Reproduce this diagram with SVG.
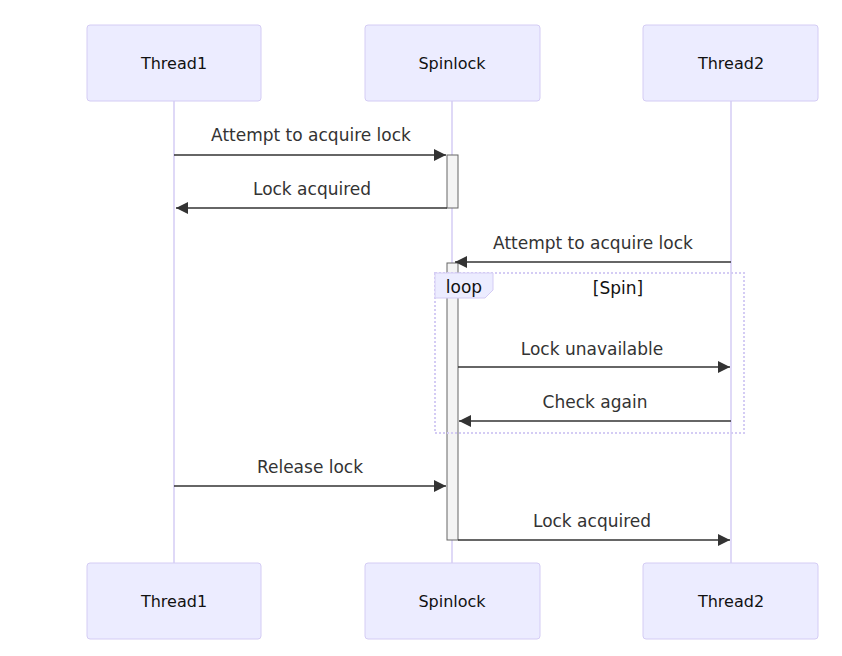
<svg xmlns="http://www.w3.org/2000/svg" width="842" height="656" viewBox="0 0 842 656">
<style>
.actor{fill:#ECECFF;stroke:#D4CCF4;stroke-width:1}
.atext{font-family:"DejaVu Sans","Liberation Sans",sans-serif;font-size:16px;fill:#111;text-anchor:middle;dominant-baseline:central}
.life{stroke:#D4CCF4;stroke-width:1.5}
.act{fill:#F4F4F4;stroke:#666;stroke-width:1}
.msg{stroke:#333;stroke-width:1.5;fill:none}
.mtext{font-family:"DejaVu Sans","Liberation Sans",sans-serif;font-size:17px;fill:#333;text-anchor:middle}
.loop{fill:none;stroke:#D4CCF4;stroke-width:2;stroke-dasharray:2 2}
.lbl{fill:#ECECFF;stroke:#D4CCF4;stroke-width:1}
</style>
<defs>
<marker id="arr" viewBox="0 0 12 12" refX="12" refY="6" markerWidth="12" markerHeight="12" markerUnits="userSpaceOnUse" orient="auto">
<path d="M0,0 L12,6 L0,12 z" fill="#333"/>
</marker>
</defs>
<rect width="842" height="656" fill="#fff"/>
<g id="lifelines">
<line class="life" x1="174" y1="101" x2="174" y2="563"/>
<line class="life" x1="452" y1="101" x2="452" y2="563"/>
<line class="life" x1="731" y1="101" x2="731" y2="563"/>
</g>
<g id="actor-Thread1-top"><rect class="actor" x="87" y="25" width="174" height="76" rx="3"/><text class="atext" x="174" y="63">Thread1</text></g>
<g id="actor-Spinlock-top"><rect class="actor" x="365" y="25" width="175" height="76" rx="3"/><text class="atext" x="452" y="63">Spinlock</text></g>
<g id="actor-Thread2-top"><rect class="actor" x="643" y="25" width="175" height="76" rx="3"/><text class="atext" x="731" y="63">Thread2</text></g>
<g id="actor-Thread1-bottom"><rect class="actor" x="87" y="563" width="174" height="76" rx="3"/><text class="atext" x="174" y="601">Thread1</text></g>
<g id="actor-Spinlock-bottom"><rect class="actor" x="365" y="563" width="175" height="76" rx="3"/><text class="atext" x="452" y="601">Spinlock</text></g>
<g id="actor-Thread2-bottom"><rect class="actor" x="643" y="563" width="175" height="76" rx="3"/><text class="atext" x="731" y="601">Thread2</text></g>
<g id="activations">
<rect class="act" x="447" y="155" width="11" height="53"/>
<rect class="act" x="447" y="263" width="11" height="277"/>
</g>
<g id="loop">
<rect class="loop" x="435" y="273" width="309" height="160"/>
<path class="lbl" d="M435,273 H493 V290 L485,298 H435 Z"/>
<text class="mtext" x="464" y="293" style="fill:#111">loop</text>
<text class="mtext" x="618" y="294" style="fill:#111">[Spin]</text>
</g>
<g id="connectors">
<line class="msg" x1="174" y1="155" x2="446" y2="155" marker-end="url(#arr)"/>
<text class="mtext" x="311" y="141">Attempt to acquire lock</text>
<line class="msg" x1="447" y1="208" x2="176" y2="208" marker-end="url(#arr)"/>
<text class="mtext" x="312" y="195">Lock acquired</text>
<line class="msg" x1="731" y1="262" x2="455" y2="262" marker-end="url(#arr)"/>
<text class="mtext" x="593" y="249">Attempt to acquire lock</text>
<line class="msg" x1="458" y1="367" x2="730" y2="367" marker-end="url(#arr)"/>
<text class="mtext" x="592" y="355">Lock unavailable</text>
<line class="msg" x1="731" y1="421" x2="459" y2="421" marker-end="url(#arr)"/>
<text class="mtext" x="595" y="408">Check again</text>
<line class="msg" x1="174" y1="486" x2="446" y2="486" marker-end="url(#arr)"/>
<text class="mtext" x="310" y="473">Release lock</text>
<line class="msg" x1="458" y1="540" x2="730" y2="540" marker-end="url(#arr)"/>
<text class="mtext" x="592" y="527">Lock acquired</text>
</g>
</svg>
